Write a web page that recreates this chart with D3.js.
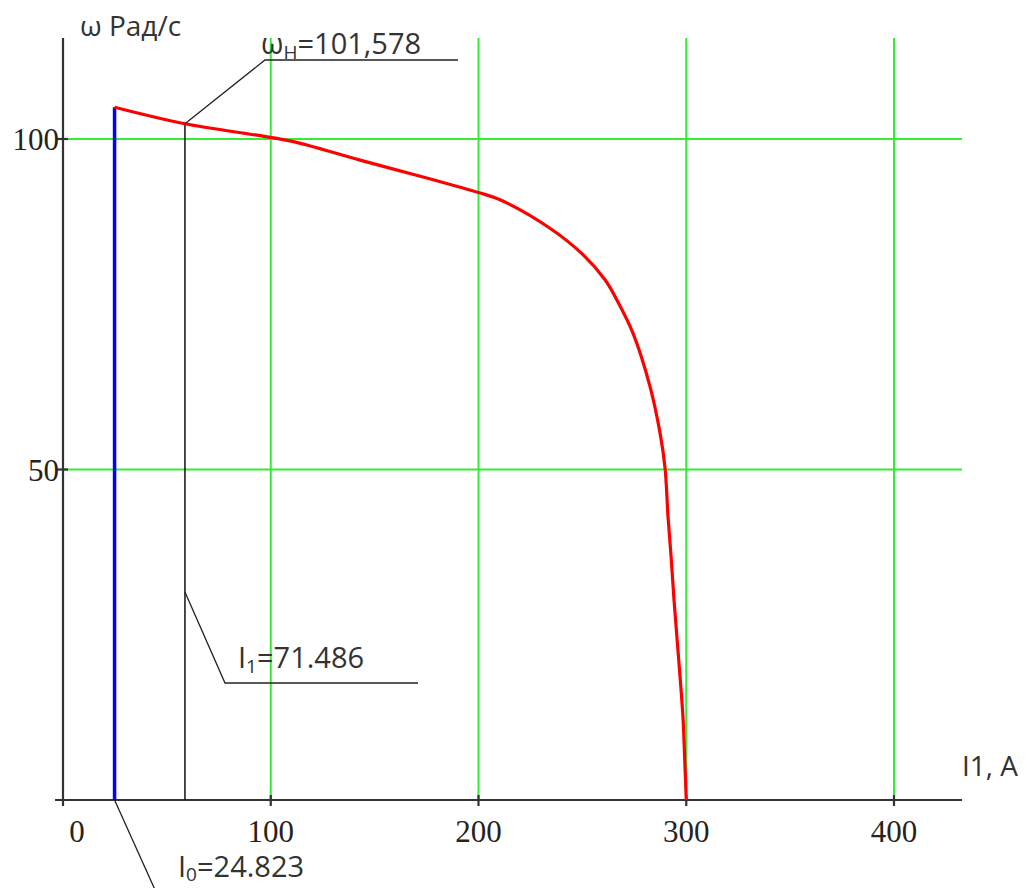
<!DOCTYPE html>
<html>
<head>
<meta charset="utf-8">
<script src="https://cdn.jsdelivr.net/npm/d3@7"></script>
<style>
  html, body { margin: 0; padding: 0; background: #fff; overflow: hidden; }
  svg { display: block; }
  .tick-label { font-family: "Liberation Serif", "DejaVu Serif", serif; font-size: 31px; fill: #2a2218; }
  .note { font-family: "Open Sans", "Liberation Sans", sans-serif; font-size: 29px; fill: #333; }
  .axis-title { font-family: "Open Sans", "Liberation Sans", sans-serif; font-size: 28px; fill: #333; }
</style>
</head>
<body>
<div id="chart"></div>
<script>
// values
const current = [24.823, 58.7, 94.8, 110.9, 143.0, 175.1, 200.0, 210.4, 234.4, 250.3, 260.9, 266.7,
  274.4, 282.6, 287.4, 289.8, 291.2, 292.7, 294.1, 296.5, 298.4, 299.4, 300];
const omega = [104.8, 102.3, 100.5, 99.6, 96.8, 94.1, 91.9, 90.8, 86.5, 82.5, 78.7, 75.6,
  70.6, 62.5, 55.5, 50.2, 43.0, 36.8, 30.3, 20.7, 12.6, 5.0, 0];
const xTicks = [0, 100, 200, 300, 400];
const yTicks = [50, 100];
const xGrid = [100, 200, 300, 400];
const I0 = 24.823;       // no-load current (blue line)
const markerI = 58.7;    // black marker position as drawn
const markerW = 102.3;

const width = 1027, height = 888;
const svg = d3.select("#chart").append("svg")
  .attr("width", width).attr("height", height);

const x = d3.scaleLinear().domain([0, 400]).range([63, 894]);
const y = d3.scaleLinear().domain([0, 100]).range([800, 139]);
const xMax = x.invert(962), yMax = y.invert(38);

// grid
const grid = svg.append("g").attr("stroke", "#33ee33").attr("stroke-width", 2);
grid.selectAll(".gx").data(xGrid).enter().append("line")
  .attr("x1", d => x(d)).attr("x2", d => x(d))
  .attr("y1", y(0)).attr("y2", y(yMax));
grid.selectAll(".gy").data(yTicks).enter().append("line")
  .attr("x1", x(0)).attr("x2", x(xMax))
  .attr("y1", d => y(d)).attr("y2", d => y(d));

// axes
const ax = svg.append("g").attr("stroke", "#333").attr("stroke-width", 2.2);
ax.append("line").attr("x1", x(0) - 8).attr("x2", x(xMax)).attr("y1", y(0)).attr("y2", y(0));
ax.append("line").attr("x1", x(0)).attr("x2", x(0)).attr("y1", y(0) + 6).attr("y2", y(yMax));
ax.selectAll(".tx").data(xTicks.filter(d => d > 0)).enter().append("line")
  .attr("x1", d => x(d)).attr("x2", d => x(d)).attr("y1", y(0) - 5).attr("y2", y(0) + 6);
ax.selectAll(".ty").data(yTicks).enter().append("line")
  .attr("x1", x(0) - 6).attr("x2", x(0) + 5).attr("y1", d => y(d)).attr("y2", d => y(d));

svg.selectAll(".xl").data(xTicks).enter().append("text")
  .attr("class", "tick-label")
  .attr("x", d => x(d) + (d === 0 ? 14 : 0)).attr("y", y(0) + 42)
  .attr("text-anchor", "middle").text(d => d);
svg.selectAll(".yl").data(yTicks).enter().append("text")
  .attr("class", "tick-label")
  .attr("x", x(0) - 4).attr("y", d => y(d) + 11)
  .attr("text-anchor", "end").text(d => d);

// blue no-load line
svg.append("line")
  .attr("x1", x(I0)).attr("x2", x(I0)).attr("y1", y(0)).attr("y2", y(omega[0]))
  .attr("stroke", "#0000ff").attr("stroke-width", 3.5);

// black marker
svg.append("line")
  .attr("x1", x(markerI)).attr("x2", x(markerI)).attr("y1", y(0)).attr("y2", y(markerW))
  .attr("stroke", "#111").attr("stroke-width", 1.5);

// red characteristic
const line = d3.line().x((d, i) => x(current[i])).y(d => y(d)).curve(d3.curveCatmullRom.alpha(0.5));
svg.append("path")
  .datum(omega)
  .attr("d", line)
  .attr("fill", "none")
  .attr("stroke", "#ff0000")
  .attr("stroke-width", 3.2)
  .attr("stroke-linejoin", "round");

// leader lines
const leaders = svg.append("g").attr("fill", "none").attr("stroke", "#222").attr("stroke-width", 1.3);
leaders.append("polyline")
  .attr("points", `${x(markerI)},${y(markerW)} 265,60 458,60`);
leaders.append("polyline")
  .attr("points", `${x(markerI)},592 225,683 418,683`);
leaders.append("polyline")
  .attr("points", `${x(I0)},${y(0)} 156,892`);

// annotation texts
const tW = svg.append("text").attr("class", "note").attr("x", 261).attr("y", 54);
tW.append("tspan").text("ω");
tW.append("tspan").attr("font-size", 19).attr("dy", 5).text("Н");
tW.append("tspan").attr("dy", -5).text("=101,578");

const t1 = svg.append("text").attr("class", "note").attr("x", 238).attr("y", 668);
t1.append("tspan").text("I");
t1.append("tspan").attr("font-size", 19).attr("dy", 5).text("1");
t1.append("tspan").attr("dy", -5).text("=71.486");

const t0 = svg.append("text").attr("class", "note").attr("x", 178).attr("y", 877);
t0.append("tspan").text("I");
t0.append("tspan").attr("font-size", 19).attr("dy", 4).text("0");
t0.append("tspan").attr("dy", -4).text("=24.823");

// axis titles
svg.append("text").attr("class", "axis-title").attr("x", 80).attr("y", 36).text("ω Рад/с");
svg.append("text").attr("class", "axis-title").attr("x", 962).attr("y", 776).text("I1, A");
</script>
</body>
</html>
